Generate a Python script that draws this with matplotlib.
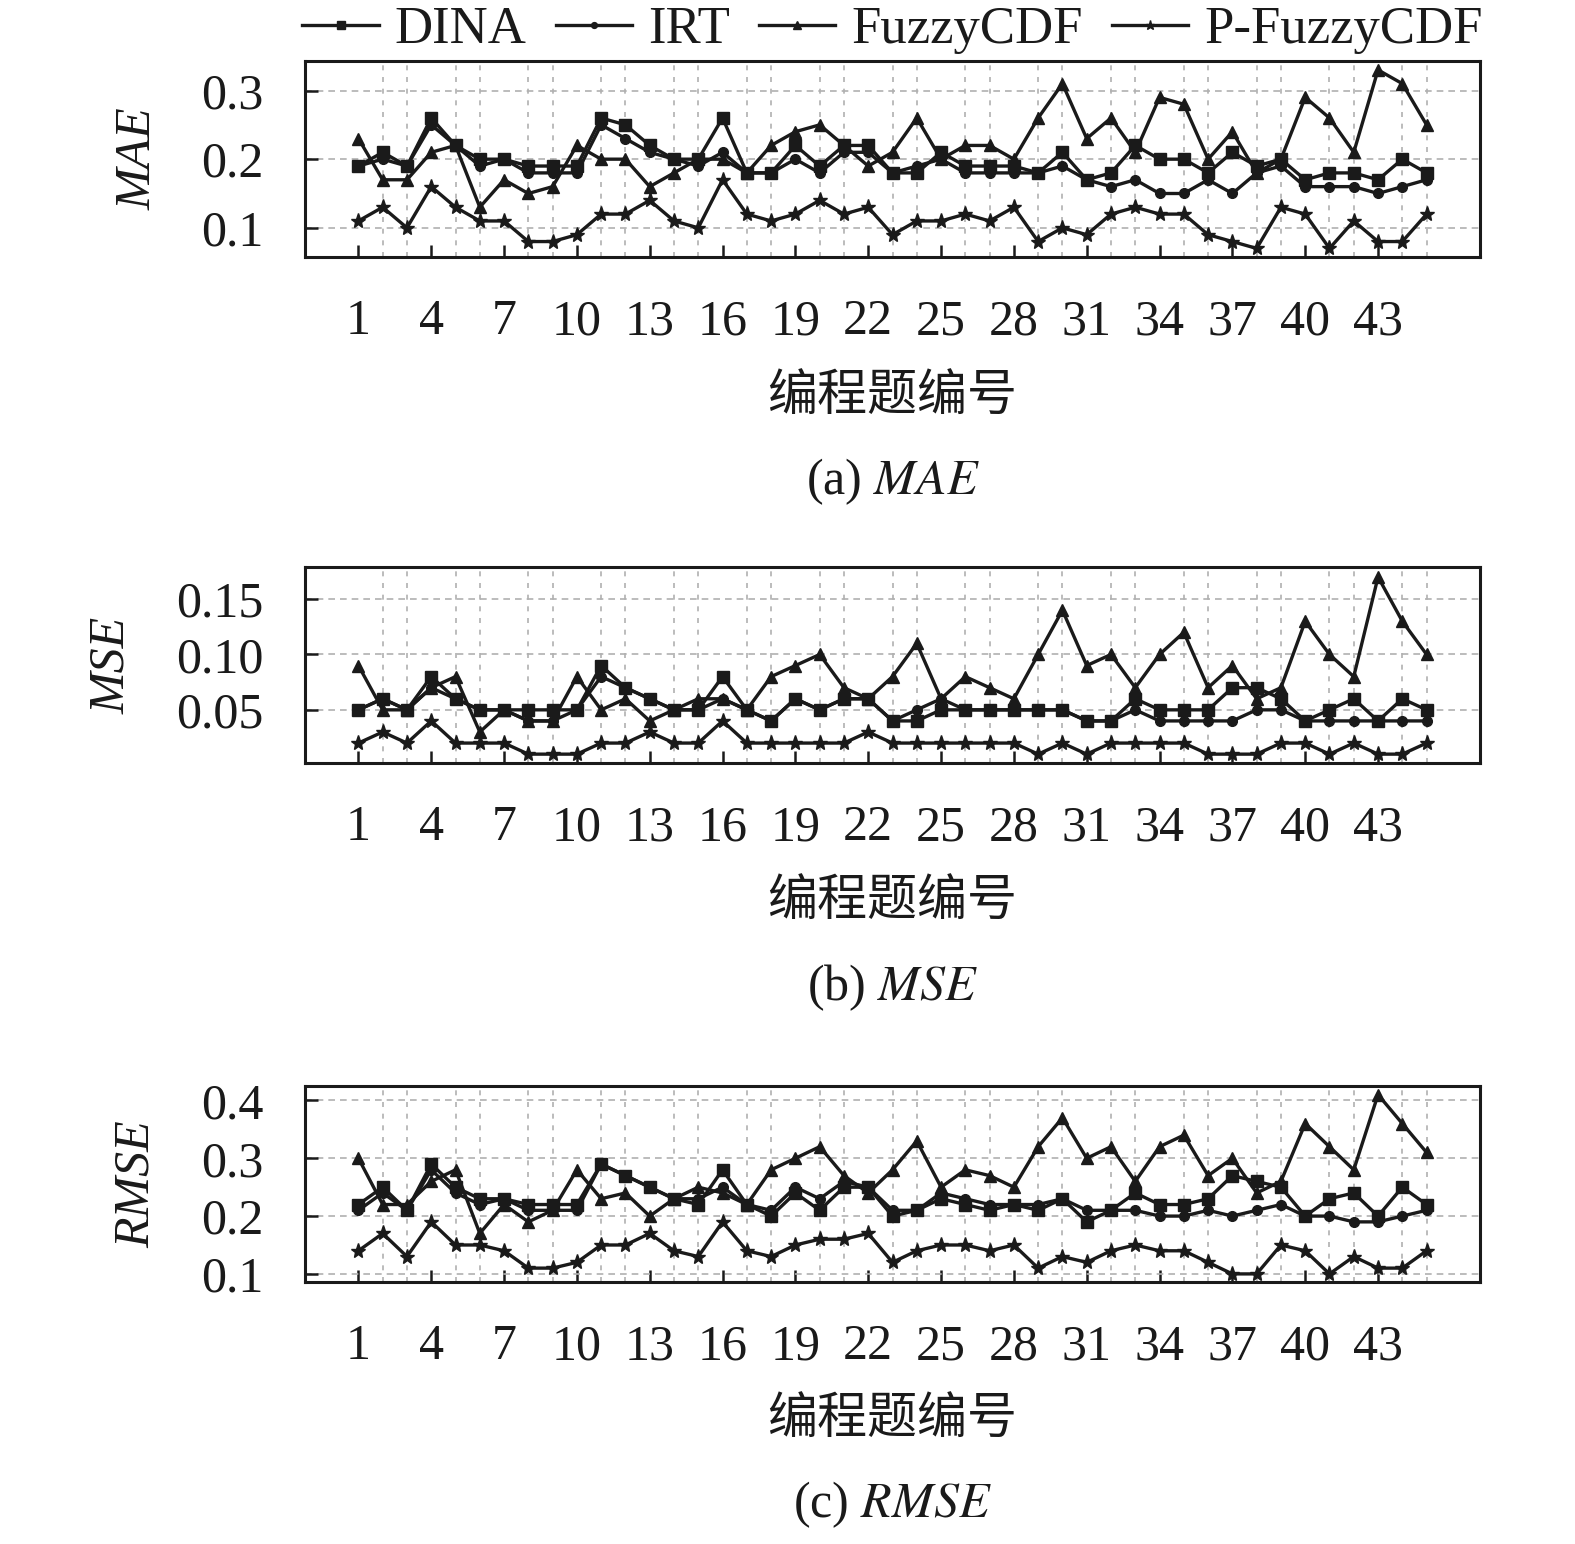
import matplotlib
matplotlib.use("Agg")
import matplotlib.pyplot as plt
from matplotlib.ticker import FixedLocator, FormatStrFormatter

plt.rcParams['font.family'] = ['Liberation Serif', 'Noto Sans CJK SC', 'DejaVu Sans']
plt.rcParams['mathtext.fontset'] = 'stix'

questions = list(range(1, 46))
models = ['DINA', 'IRT', 'FuzzyCDF', 'P-FuzzyCDF']

mae_dina = [0.19, 0.21, 0.19, 0.26, 0.22, 0.20, 0.20, 0.19, 0.19, 0.19, 0.26, 0.25, 0.22, 0.20, 0.20,
            0.26, 0.18, 0.18, 0.22, 0.19, 0.22, 0.22, 0.18, 0.18, 0.21, 0.19, 0.19, 0.19, 0.18, 0.21,
            0.17, 0.18, 0.22, 0.20, 0.20, 0.18, 0.21, 0.19, 0.20, 0.17, 0.18, 0.18, 0.17, 0.20, 0.18]
mae_irt = [0.19, 0.20, 0.19, 0.25, 0.22, 0.19, 0.20, 0.18, 0.18, 0.18, 0.25, 0.23, 0.21, 0.20, 0.19,
           0.21, 0.18, 0.18, 0.20, 0.18, 0.21, 0.21, 0.18, 0.19, 0.20, 0.18, 0.18, 0.18, 0.18, 0.19,
           0.17, 0.16, 0.17, 0.15, 0.15, 0.17, 0.15, 0.18, 0.19, 0.16, 0.16, 0.16, 0.15, 0.16, 0.17]
mae_fuzzy = [0.23, 0.17, 0.17, 0.21, 0.22, 0.13, 0.17, 0.15, 0.16, 0.22, 0.20, 0.20, 0.16, 0.18, 0.20,
             0.20, 0.18, 0.22, 0.24, 0.25, 0.22, 0.19, 0.21, 0.26, 0.20, 0.22, 0.22, 0.20, 0.26, 0.31,
             0.23, 0.26, 0.21, 0.29, 0.28, 0.20, 0.24, 0.18, 0.20, 0.29, 0.26, 0.21, 0.33, 0.31, 0.25]
mae_pfuzzy = [0.11, 0.13, 0.10, 0.16, 0.13, 0.11, 0.11, 0.08, 0.08, 0.09, 0.12, 0.12, 0.14, 0.11, 0.10,
              0.17, 0.12, 0.11, 0.12, 0.14, 0.12, 0.13, 0.09, 0.11, 0.11, 0.12, 0.11, 0.13, 0.08, 0.10,
              0.09, 0.12, 0.13, 0.12, 0.12, 0.09, 0.08, 0.07, 0.13, 0.12, 0.07, 0.11, 0.08, 0.08, 0.12]

mse_dina = [0.05, 0.06, 0.05, 0.08, 0.06, 0.05, 0.05, 0.05, 0.05, 0.05, 0.09, 0.07, 0.06, 0.05, 0.05,
            0.08, 0.05, 0.04, 0.06, 0.05, 0.06, 0.06, 0.04, 0.04, 0.05, 0.05, 0.05, 0.05, 0.05, 0.05,
            0.04, 0.04, 0.06, 0.05, 0.05, 0.05, 0.07, 0.07, 0.06, 0.04, 0.05, 0.06, 0.04, 0.06, 0.05]
mse_irt = [0.05, 0.06, 0.05, 0.07, 0.06, 0.05, 0.05, 0.04, 0.04, 0.05, 0.08, 0.07, 0.06, 0.05, 0.05,
           0.06, 0.05, 0.04, 0.06, 0.05, 0.06, 0.06, 0.04, 0.05, 0.06, 0.05, 0.05, 0.05, 0.05, 0.05,
           0.04, 0.04, 0.05, 0.04, 0.04, 0.04, 0.04, 0.05, 0.05, 0.04, 0.04, 0.04, 0.04, 0.04, 0.04]
mse_fuzzy = [0.09, 0.05, 0.05, 0.07, 0.08, 0.03, 0.05, 0.04, 0.04, 0.08, 0.05, 0.06, 0.04, 0.05, 0.06,
             0.06, 0.05, 0.08, 0.09, 0.10, 0.07, 0.06, 0.08, 0.11, 0.06, 0.08, 0.07, 0.06, 0.10, 0.14,
             0.09, 0.10, 0.07, 0.10, 0.12, 0.07, 0.09, 0.06, 0.07, 0.13, 0.10, 0.08, 0.17, 0.13, 0.10]
mse_pfuzzy = [0.02, 0.03, 0.02, 0.04, 0.02, 0.02, 0.02, 0.01, 0.01, 0.01, 0.02, 0.02, 0.03, 0.02, 0.02,
              0.04, 0.02, 0.02, 0.02, 0.02, 0.02, 0.03, 0.02, 0.02, 0.02, 0.02, 0.02, 0.02, 0.01, 0.02,
              0.01, 0.02, 0.02, 0.02, 0.02, 0.01, 0.01, 0.01, 0.02, 0.02, 0.01, 0.02, 0.01, 0.01, 0.02]

rmse_dina = [0.22, 0.25, 0.21, 0.29, 0.25, 0.23, 0.23, 0.22, 0.22, 0.22, 0.29, 0.27, 0.25, 0.23, 0.22,
             0.28, 0.22, 0.20, 0.24, 0.21, 0.25, 0.25, 0.20, 0.21, 0.23, 0.22, 0.21, 0.22, 0.21, 0.23,
             0.19, 0.21, 0.24, 0.22, 0.22, 0.23, 0.27, 0.26, 0.25, 0.20, 0.23, 0.24, 0.20, 0.25, 0.22]
rmse_irt = [0.21, 0.24, 0.21, 0.28, 0.24, 0.22, 0.23, 0.21, 0.21, 0.21, 0.29, 0.27, 0.25, 0.23, 0.23,
            0.25, 0.22, 0.21, 0.25, 0.23, 0.26, 0.25, 0.21, 0.21, 0.24, 0.23, 0.22, 0.22, 0.22, 0.23,
            0.21, 0.21, 0.21, 0.20, 0.20, 0.21, 0.20, 0.21, 0.22, 0.20, 0.20, 0.19, 0.19, 0.20, 0.21]
rmse_fuzzy = [0.30, 0.22, 0.22, 0.26, 0.28, 0.17, 0.22, 0.19, 0.21, 0.28, 0.23, 0.24, 0.20, 0.23, 0.25,
              0.24, 0.22, 0.28, 0.30, 0.32, 0.27, 0.24, 0.28, 0.33, 0.25, 0.28, 0.27, 0.25, 0.32, 0.37,
              0.30, 0.32, 0.26, 0.32, 0.34, 0.27, 0.30, 0.24, 0.26, 0.36, 0.32, 0.28, 0.41, 0.36, 0.31]
rmse_pfuzzy = [0.14, 0.17, 0.13, 0.19, 0.15, 0.15, 0.14, 0.11, 0.11, 0.12, 0.15, 0.15, 0.17, 0.14, 0.13,
               0.19, 0.14, 0.13, 0.15, 0.16, 0.16, 0.17, 0.12, 0.14, 0.15, 0.15, 0.14, 0.15, 0.11, 0.13,
               0.12, 0.14, 0.15, 0.14, 0.14, 0.12, 0.10, 0.10, 0.15, 0.14, 0.10, 0.13, 0.11, 0.11, 0.14]

x_major = list(range(1, 44, 3))

panels = [
    ('MAE', '(a) ', [mae_dina, mae_irt, mae_fuzzy, mae_pfuzzy], [0.1, 0.2, 0.3], '%.1f', (0.0575, 0.343)),
    ('MSE', '(b) ', [mse_dina, mse_irt, mse_fuzzy, mse_pfuzzy], [0.05, 0.10, 0.15], '%.2f', (0.002, 0.179)),
    ('RMSE', '(c) ', [rmse_dina, rmse_irt, rmse_fuzzy, rmse_pfuzzy], [0.1, 0.2, 0.3, 0.4], '%.1f', (0.086, 0.425)),
]

W, H = 1575, 1544
# pixel layout of the three panels (top, bottom), ylabel x, xlabel y, caption y
layout = [(61, 257, 138, 397, 482),
          (567, 763, 112, 902, 988),
          (1086, 1282, 137, 1420, 1505)]
ax_left, ax_right = 305, 1480

markers = ['s', 'o', '^', '*']
msizes = [9, 7, 9, 11]
ink = '#1a1a1a'
fs = 36

fig = plt.figure(figsize=(W / 100, H / 100), dpi=100)

axes = []
for (metric, tag, series, yticks, fmt, ylim), (top, bot, ylx, xly, capy) in zip(panels, layout):
    ax = fig.add_axes([ax_left / W, 1 - bot / H, (ax_right - ax_left) / W, (bot - top) / H])
    for name, vals, m, ms in zip(models, series, markers, msizes):
        ax.plot(questions, vals, color=ink, lw=2.4, marker=m, markersize=ms,
                markerfacecolor=ink, markeredgecolor=ink, label=name)
    ax.set_xlim(-1.2, 47.2)
    ax.set_ylim(*ylim)
    ax.xaxis.set_major_locator(FixedLocator(x_major))
    ax.xaxis.set_minor_locator(FixedLocator(questions))
    ax.yaxis.set_major_locator(FixedLocator(yticks))
    ax.yaxis.set_major_formatter(FormatStrFormatter(fmt))
    ax.tick_params(axis='both', which='major', direction='in', length=9, width=1.8,
                   labelsize=fs, colors=ink, pad=30)
    ax.tick_params(axis='x', which='minor', length=0)
    ax.tick_params(top=False, right=False)
    ax.grid(True, axis='x', which='minor', color='#b0b0b0', ls=(0, (3, 4)), lw=1.2)
    ax.grid(True, axis='y', which='major', color='#b0b0b0', ls=(0, (4, 3)), lw=1.2)
    ax.grid(False, axis='x', which='major')
    ax.set_axisbelow(True)
    for sp in ax.spines.values():
        sp.set_linewidth(2.2)
        sp.set_color(ink)

    fig.text(ylx / W, 1 - (top + bot) / 2 / H, metric, rotation=90, ha='center', va='center',
             fontsize=fs, style='italic', color=ink)
    fig.text(0.5 * (ax_left + ax_right) / W, 1 - xly / H, '编程题编号', ha='center', va='center',
             fontsize=fs, color=ink, family=['Noto Sans CJK SC', 'DejaVu Sans'])
    fig.text(0.5 * (ax_left + ax_right) / W, 1 - capy / H, tag + '$\\mathit{' + metric + '}$',
             ha='center', va='center', fontsize=fs, color=ink)
    axes.append(ax)

handles, labels = axes[0].get_legend_handles_labels()
fig.legend(handles, labels, loc='center', bbox_to_anchor=(0.5 * (ax_left + ax_right) / W, 1 - 30 / H),
           ncol=4, frameon=False, fontsize=38, markerscale=0.6, handlelength=1.45,
           handletextpad=0.3, columnspacing=0.55, borderaxespad=0, labelcolor=ink)

fig.savefig('out.png', dpi=100)
